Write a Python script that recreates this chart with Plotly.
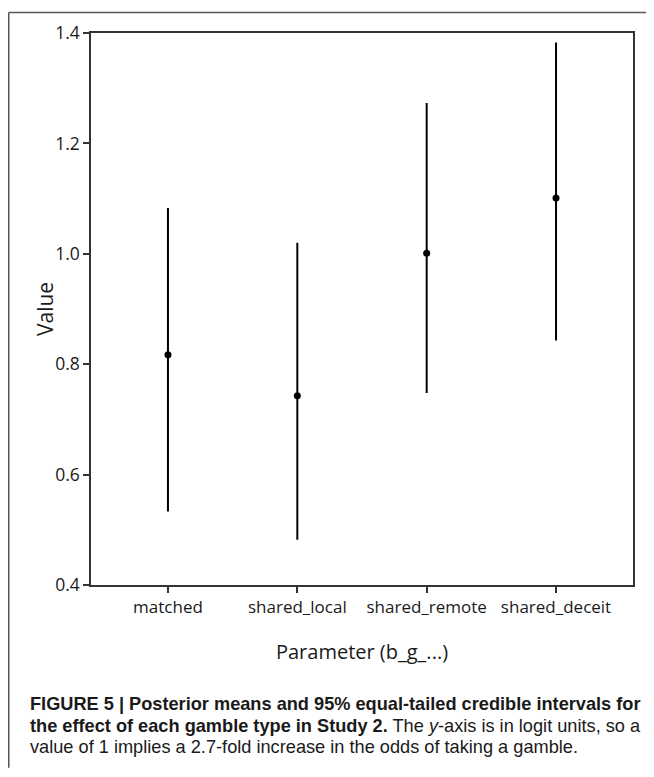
import plotly.graph_objects as go

categories = ["matched", "shared_local", "shared_remote", "shared_deceit"]
means = [0.817, 0.743, 1.001, 1.101]
lower = [0.533, 0.482, 0.748, 0.843]
upper = [1.083, 1.020, 1.273, 1.383]
y_ticks = [0.4, 0.6, 0.8, 1.0, 1.2, 1.4]
y_tick_labels = ["0.4", "0.6", "0.8", "1.0", "1.2", "1.4"]

# page offset of the figure div (browser default body margin)
OFF = 8
W, H = 654 - OFF, 777 - 2 * OFF
L, R, T, B = 91 - OFF, 633 - OFF, 29.5 - OFF, 585 - OFF


def px(x):
    return (x - OFF - L) / (R - L)


def py(y):
    return (B - (y - OFF)) / (B - T)


err_plus = [u - m for u, m in zip(upper, means)]
err_minus = [m - l for m, l in zip(means, lower)]

fig = go.Figure()
fig.add_trace(go.Scatter(
    x=list(range(len(categories))), y=means, mode="markers",
    marker=dict(color="black", size=7),
    error_y=dict(type="data", array=err_plus, arrayminus=err_minus,
                 width=0, thickness=2, color="black"),
    showlegend=False, hoverinfo="skip",
))

txt = "#1a1a1a"
fig.update_layout(
    width=W, height=H,
    margin=dict(l=L, r=W - R, t=T, b=H - B, pad=0),
    paper_bgcolor="white", plot_bgcolor="white",
    xaxis=dict(
        range=[-0.595, 3.595], tickvals=list(range(len(categories))),
        ticktext=categories, showgrid=False, zeroline=False,
        showline=True, linecolor="#333", linewidth=1.5, mirror=True,
        ticks="outside", ticklen=6, tickcolor="#333", tickwidth=1.5,
        tickfont=dict(family="Open Sans", size=17, color=txt),
        title=dict(text="Parameter (b_g_...)", font=dict(family="Open Sans", size=20, color=txt), standoff=28),
    ),
    yaxis=dict(
        range=[0.4, 1.4], tickvals=y_ticks, ticktext=y_tick_labels,
        showgrid=False, zeroline=False,
        showline=True, linecolor="#333", linewidth=1.5, mirror=True,
        ticks="outside", ticklen=6, tickcolor="#333", tickwidth=1.5,
        tickfont=dict(family="Open Sans", size=17.5, color=txt),
    ),
    shapes=[
        dict(type="line", xref="paper", yref="paper", x0=px(8.75), x1=px(654), y0=py(8.75), y1=py(8.75),
             line=dict(color="#555", width=1.5)),
        dict(type="line", xref="paper", yref="paper", x0=px(8.75), x1=px(8.75), y0=py(8.75), y1=py(769),
             line=dict(color="#555", width=1.5)),
    ],
)

fig.add_annotation(text="Value", xref="paper", yref="paper", x=px(45), y=0.5, textangle=-90,
                   xanchor="center", yanchor="middle", showarrow=False,
                   font=dict(family="Open Sans", size=21, color=txt))

cap_font = dict(family="Liberation Sans", size=18.2, color=txt)
captions = [
    "<b>FIGURE 5 | Posterior means and 95% equal-tailed credible intervals for</b>",
    "<b>the effect of each gamble type in Study 2.</b> The <i>y</i>-axis is in logit units, so a",
    "value of 1 implies a 2.7-fold increase in the odds of taking a gamble.",
]
for i, c in enumerate(captions):
    fig.add_annotation(text=c, xref="paper", yref="paper", x=px(28), y=py(705 + 21.5 * i),
                       xanchor="left", yanchor="middle", showarrow=False, font=cap_font, align="left")

fig.write_html("out.html")
